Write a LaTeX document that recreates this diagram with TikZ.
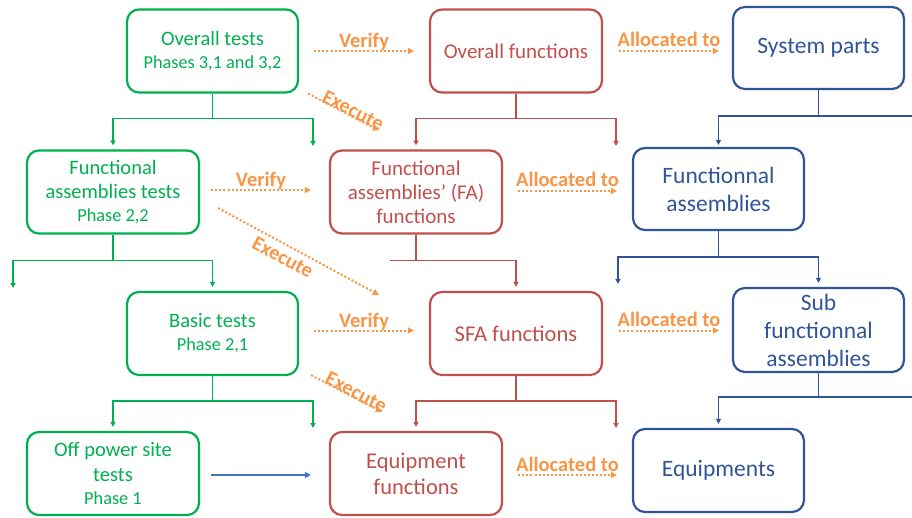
\documentclass[tikz,border=0pt]{standalone}
\usepackage{fontspec}
\setmainfont{Carlito}
\usetikzlibrary{arrows.meta,calc}
\definecolor{gC}{HTML}{00B050}
\definecolor{rC}{HTML}{C0504D}
\definecolor{bC}{HTML}{2F5597}
\definecolor{oC}{HTML}{F79646}
\definecolor{lbC}{HTML}{4472C4}
\begin{document}
\begin{tikzpicture}[x=1pt,y=-1pt,
  box/.style={draw, line width=2.2pt, rounded corners=12pt, align=center, inner sep=0pt, anchor=center},
  gbox/.style={box, draw=gC, text=gC, minimum width=171pt, minimum height=83pt, font=\fontsize{20.5}{24.5}\selectfont},
  rbox/.style={box, draw=rC, text=rC, minimum width=172pt, minimum height=83pt, font=\fontsize{21}{24}\selectfont},
  bbox/.style={box, draw=bC, text=bC, minimum width=171pt, minimum height=83pt, font=\fontsize{23.5}{28}\selectfont},
  tip/.style={-{Triangle[length=5pt,width=5pt]}},
  gline/.style={draw=gC, line width=1.3pt},
  rline/.style={draw=rC, line width=1.3pt},
  bline/.style={draw=bC, line width=1.3pt},
  dots/.style={draw=oC, line width=2pt, dash pattern=on 2pt off 2.1pt, -{Triangle[length=6pt,width=6pt]}},
  lab/.style={text=oC, inner sep=0pt, font=\bfseries\fontsize{20.5}{23}\selectfont}]
\useasboundingbox (0,0) rectangle (912,518);

% green boxes
\node[gbox] (gOT) at (212.5,51) {Overall tests\\[-1.5pt]{\fontsize{18.3}{22}\selectfont Phases 3,1 and 3,2}};
\node[gbox, minimum width=172pt] (gFAT) at (113,192) {Functional\\assemblies tests\\[-1.5pt]{\fontsize{18.3}{22}\selectfont Phase 2,2}};
\node[gbox] (gBT) at (212.5,333.5) {Basic tests\\[-1.5pt]{\fontsize{18.3}{22}\selectfont Phase 2,1}};
\node[gbox, minimum width=172pt] (gOPS) at (113,473.5) {Off power site\\tests\\[-1.5pt]{\fontsize{18.3}{22}\selectfont Phase 1}};

% red boxes
\node[rbox] (rOF) at (516,51) {Overall functions};
\node[rbox] (rFAF) at (416,192) {Functional\\assemblies’ (FA)\\functions};
\node[rbox, font=\fontsize{22.5}{26}\selectfont] (rSFA) at (516,333.5) {SFA functions};
\node[rbox, font=\fontsize{22.5}{26}\selectfont] (rEF) at (416,473.5) {Equipment\\functions};

% blue boxes
\node[bbox, minimum height=82pt] (bSP) at (818.5,48) {System parts};
\node[bbox, minimum height=82pt] (bFA) at (718.5,189) {Functionnal\\assemblies};
\node[bbox, minimum height=84pt] (bSFA) at (818.5,330) {Sub\\functionnal\\assemblies};
\node[bbox] (bEQ) at (718.5,470.5) {Equipments};

% dangling ends
\coordinate (gd1) at (313,146);
\coordinate (rd1) at (616,146);
\coordinate (gd2) at (13,288);
\coordinate (bd2) at (618,284);
\coordinate (gd3) at (313,428);
\coordinate (rd3) at (616,428);

% green trees
\draw[gline,tip] (gOT.south) -- ++(0,25) -| ([yshift=4pt]gFAT.north);
\draw[gline,tip] (gOT.south) -- ++(0,25) -| (gd1);
\draw[gline,tip] (gFAT.south) -- ++(0,26) -| (gd2);
\draw[gline,tip] (gFAT.south) -- ++(0,26) -| ([yshift=4pt]gBT.north);
\draw[gline,tip] (gBT.south) -- ++(0,25) -| ([yshift=4pt]gOPS.north);
\draw[gline,tip] (gBT.south) -- ++(0,25) -| (gd3);

% red trees
\draw[rline,tip] (rOF.south) -- ++(0,25) -| ([yshift=4pt]rFAF.north);
\draw[rline,tip] (rOF.south) -- ++(0,25) -| (rd1);
\draw[rline] (rFAF.south) -- ++(0,26) -- ++(-26,0) coordinate (rd2);
\draw[rline,tip] (rFAF.south) -- ++(0,26) -| ([yshift=4pt]rSFA.north);
\draw[rline,tip] (rSFA.south) -- ++(0,25) -| ([yshift=4pt]rEF.north);
\draw[rline,tip] (rSFA.south) -- ++(0,25) -| (rd3);

% blue trees
\draw[bline,tip] (bSP.south) -- ++(0,26) -| ([yshift=2pt]bFA.north);
\draw[bline] (bSP.south) -- ++(0,26) -- ++(100,0) coordinate (bd1);
\draw[bline,tip] (bFA.south) -- ++(0,26) -| (bd2);
\draw[bline,tip] (bFA.south) -- ++(0,26) -| ([yshift=4pt]bSFA.north);
\draw[bline,tip] (bSFA.south) -- ++(0,24) -| ([yshift=4pt]bEQ.north);
\draw[bline] (bSFA.south) -- ++(0,24) -- ++(100,0) coordinate (bd3);

% light blue arrow
\draw[draw=lbC, line width=1.5pt, -{Triangle[length=6pt,width=6pt]}] ($(gOPS.east)+(11,1.5)$) -- ($(rEF.west)+(-18,1.5)$);

% verify arrows
\draw[dots] ($(gOT.east)+(15,0)$) -- ($(rOF.west)+(-15,0)$) node[lab, midway, anchor=base, yshift=3pt] {Verify};
\draw[dots] ($(gFAT.east)+(11,-2)$) -- ($(rFAF.west)+(-18,-2)$) node[lab, midway, anchor=base, yshift=3pt] {Verify};
\draw[dots] ($(gBT.east)+(15,-3)$) -- ($(rSFA.west)+(-15,-3)$) node[lab, midway, anchor=base, yshift=3pt] {Verify};

% allocated arrows
\draw[dots] ($(rOF.east)+(16,0)$) -- ($(bSP.west |- rOF.east)+(-13,0)$) node[lab, midway, anchor=base, yshift=4pt] {Allocated to};
\draw[dots] ($(rFAF.east)+(15,-1)$) -- ($(bFA.west |- rFAF.east)+(-15,-1)$) node[lab, midway, anchor=base, yshift=4pt] {Allocated to};
\draw[dots] ($(rSFA.east)+(16,-3)$) -- ($(bSFA.west |- rSFA.east)+(-13,-3)$) node[lab, midway, anchor=base, yshift=4pt] {Allocated to};
\draw[dots] ($(rEF.east)+(15,1.5)$) -- ($(bEQ.west |- rEF.east)+(-15,1.5)$) node[lab, midway, anchor=base, yshift=4pt] {Allocated to};

% execute arrows
\draw[dots] ($(gOT.south east)+(9,0)$) -- ($(rFAF.north west)+(50,-19)$) node[lab, pos=0.6, sloped, above=-2pt] {Execute};
\draw[dots] ($(gFAT.east)+(18,16)$) -- ($(rSFA.north west)+(-50,4)$) node[lab, pos=0.44, sloped, below=5pt] {Execute};
\draw[dots] ($(gBT.south east)+(12,-1)$) -- ($(rEF.north west)+(53,-19)$) node[lab, pos=0.6, sloped, above=-2pt] {Execute};
\end{tikzpicture}
\end{document}
